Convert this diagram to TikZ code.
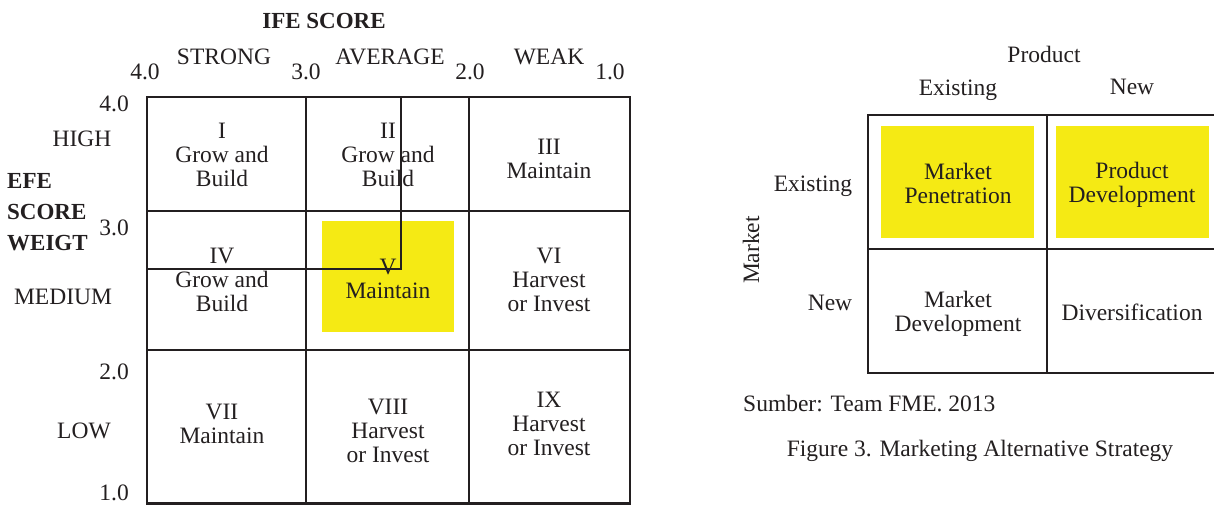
\documentclass[tikz,border=0pt]{standalone}
\usepackage{fontspec}
\setmainfont{Liberation Serif}
\definecolor{ink}{HTML}{231F20}
\definecolor{hl}{HTML}{F5EA14}
\begin{document}
\begin{tikzpicture}[x=1pt,y=-1pt,
  every node/.style={inner sep=0pt, align=center, text=ink, font=\fontsize{23.5}{24}\selectfont},
  gridline/.style={draw=ink, line width=2.8pt},
  thinline/.style={draw=ink, line width=1.2pt},
  hlbox/.style={fill=hl},
  bold/.style={font=\fontsize{23}{31}\selectfont\bfseries}]
\useasboundingbox (0,0) rectangle (1214,505);
% ---------------- left matrix ----------------
\fill[hlbox] (322,221) rectangle (454,332);
\coordinate (ltop) at (401,97);
\coordinate (lcorner) at (401,269);
\coordinate (lleft) at (147,269);
\draw[thinline] (lleft) -- (lcorner) -- (ltop);
\draw[gridline] (147,97) rectangle (630,503.6);
\draw[gridline] (306,97) -- (306,503.6);
\draw[gridline] (469,97) -- (469,503.6);
\draw[gridline] (147,211) -- (630,211);
\draw[gridline] (147,350) -- (630,350);
\node (c1) at (222,155) {I\\Grow and\\Build};
\node (c2) at (388,155) {II\\Grow and\\Build};
\node (c3) at (549,159) {III\\Maintain};
\node (c4) at (222,280) {IV\\Grow and\\Build};
\node (c5) at (388,279) {V\\Maintain};
\node (c6) at (549,280) {VI\\Harvest\\or Invest};
\node (c7) at (222,424) {VII\\Maintain};
\node (c8) at (388,431) {VIII\\Harvest\\or Invest};
\node (c9) at (549,424) {IX\\Harvest\\or Invest};
\node[font=\fontsize{23}{24}\selectfont\bfseries] (ife) at (324,21) {IFE SCORE};
\node (strong) at (224,57) {STRONG};
\node (average) at (390,57) {AVERAGE};
\node (weak) at (549,57) {WEAK};
\node (x4) at (145,72) {4.0};
\node (x3) at (306,72) {3.0};
\node (x2) at (470,72) {2.0};
\node (x1) at (610,72) {1.0};
\node[anchor=east] (y4) at (129,104) {4.0};
\node[anchor=east] (y3) at (129,228) {3.0};
\node[anchor=east] (y2) at (129,372) {2.0};
\node[anchor=east] (y1) at (129,493) {1.0};
\node (high) at (82,139) {HIGH};
\node (medium) at (63,297) {MEDIUM};
\node (low) at (84,431) {LOW};
\node[anchor=west, align=left, bold] (efe) at (7,212) {EFE\\SCORE\\WEIGT};
% ---------------- right matrix ----------------
\fill[hlbox] (881,126) rectangle (1034,238);
\fill[hlbox] (1056,126) rectangle (1209,238);
\draw[gridline] (868,115) rectangle (1228,373);
\draw[gridline] (1047,115) -- (1047,373);
\draw[gridline] (868,249) -- (1228,249);
\node (mp) at (958,183) {Market\\Penetration};
\node (pd) at (1132,185) {Product\\Development};
\node (md) at (958,314) {Market\\Development};
\node (dv) at (1132,312) {Diversification};
\node (product) at (1044,54) {Product};
\node (pex) at (958,90) {Existing};
\node (pnew) at (1132,87) {New};
\node (mex) at (813,186) {Existing};
\node (mnew) at (830,303) {New};
\node[rotate=90] (market) at (751,250) {Market};
\node[anchor=west] (src) at (743,404) {Sumber: Team FME. 2013};
\node (fig) at (980,451) {Figure 3. Marketing Alternative Strategy};
\end{tikzpicture}
\end{document}
